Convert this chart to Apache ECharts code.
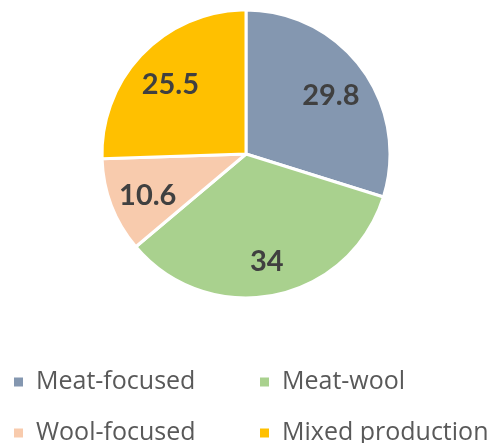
<!DOCTYPE html>
<html>
<head>
<meta charset="utf-8">
<script src="https://cdn.jsdelivr.net/npm/echarts@6/dist/echarts.min.js"></script>
<style>
  html, body { margin: 0; padding: 0; background: #fff; }
  #chart { width: 494px; height: 443px; }
</style>
</head>
<body>
<div id="chart"></div>
<script>
// Production type shares (%)
const categories = ['Meat-focused', 'Meat-wool', 'Wool-focused', 'Mixed production'];
const shares = [29.8, 34, 10.6, 25.5];
const colors = ['#8497B0', '#A9D18E', '#F8CBAD', '#FFC000'];

const pieData = categories.map((name, i) => ({
  name: name,
  value: shares[i],
  itemStyle: { color: colors[i] }
}));

const center = [246, 154];
const outer = 144;

// two-by-two legend grid: [left, top] for each category
const legendSlots = [[14, 369], [260, 369], [14, 420], [260, 420]];

const legends = categories.map((name, i) => ({
  data: [name],
  left: legendSlots[i][0],
  top: legendSlots[i][1],
  padding: 0,
  itemWidth: 9,
  itemHeight: 9,
  icon: 'rect',
  itemStyle: { borderWidth: 0 },
  textStyle: {
    color: '#595959',
    fontFamily: 'Open Sans',
    fontSize: 25,
    lineHeight: 26,
    padding: [0, 0, 0, 8]
  }
}));

const chart = echarts.init(document.getElementById('chart'), null, { renderer: 'canvas' });
chart.setOption({
  animation: false,
  backgroundColor: '#ffffff',
  legend: legends,
  series: [
    {
      type: 'pie',
      center: center,
      radius: [0, outer],
      startAngle: 90,
      clockwise: true,
      data: pieData,
      itemStyle: { borderColor: '#ffffff', borderWidth: 3 },
      label: { show: false },
      labelLine: { show: false },
      emphasis: { disabled: true }
    },
    {
      // value labels, placed in the outer band of each slice
      type: 'pie',
      center: center,
      radius: [outer * 0.42, outer],
      startAngle: 90,
      clockwise: true,
      silent: true,
      data: pieData.map(d => ({ name: d.name, value: d.value, itemStyle: { color: 'rgba(0,0,0,0)' } })),
      itemStyle: { borderWidth: 0 },
      label: {
        show: true,
        position: 'inside',
        formatter: '{c}',
        color: '#404040',
        fontFamily: 'Lato',
        fontWeight: 'bold',
        fontSize: 29
      },
      labelLayout: function () {
        return { dy: 4 };
      },
      labelLine: { show: false },
      emphasis: { disabled: true }
    }
  ]
});
</script>
</body>
</html>
